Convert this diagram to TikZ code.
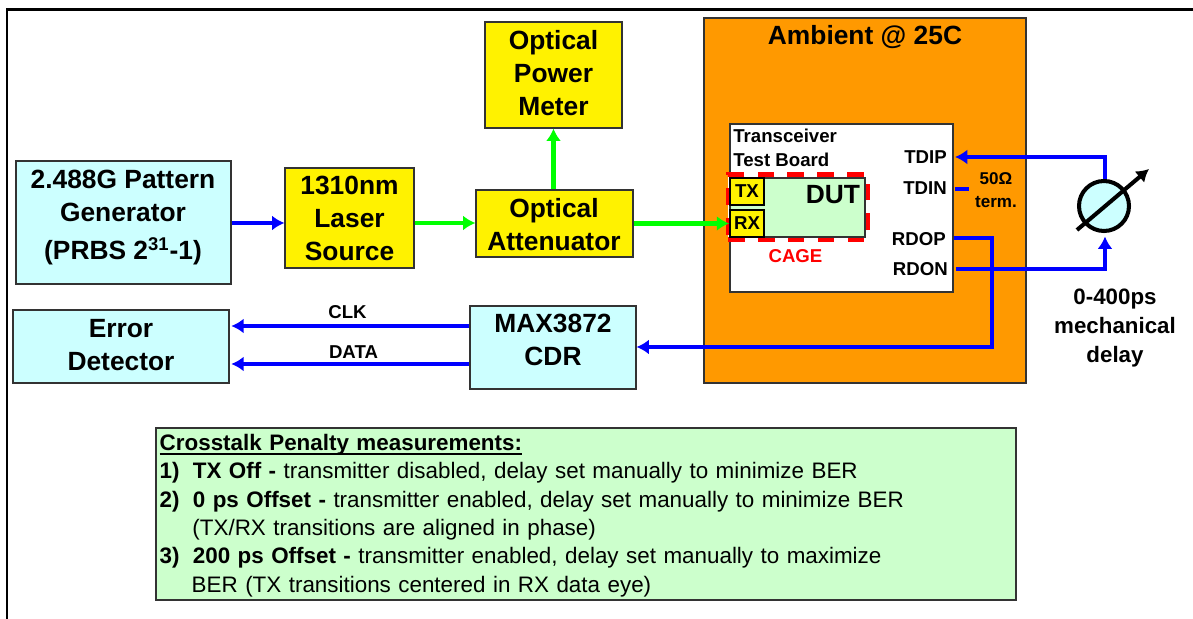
\documentclass[tikz,border=0pt]{standalone}
\usepackage{fontspec}
\setmainfont{Liberation Sans}
\usetikzlibrary{arrows.meta,shapes}
\definecolor{paleblue}{HTML}{CCFFFF}
\definecolor{palegreen}{HTML}{CCFFCC}
\definecolor{ambient}{HTML}{FF9900}
\newcommand{\ulbold}[1]{\setbox0\hbox{\bfseries #1}\rlap{\rule[-2.6pt]{\wd0}{1.1pt}}\box0}
\tikzset{
  blk/.style={draw=black!80, line width=0.65pt},
  big/.style={align=center, font=\fontsize{15}{18.8}\selectfont\bfseries},
  small/.style={font=\fontsize{10.6}{13.7}\selectfont\bfseries, align=center},
  port/.style={small, anchor=east, inner xsep=4.5pt},
  bluewire/.style={draw=blue, line width=2.3pt},
  greenwire/.style={draw=green, line width=2.3pt},
  tip/.style={-{Latex[length=7pt,width=8.5pt]}},
  chip/.style={draw=black, fill=yellow, line width=1pt, minimum width=0.68cm, minimum height=0.54cm, small}
}
\begin{document}
\begin{tikzpicture}[scale=0.2]
    \tikzstyle{every node}+=[inner sep=0pt]
    \useasboundingbox (0,0) rectangle (119.3,-61.9);
    \draw [black, line width=1.3pt] (0.7,-61.9) -- (0.7,-0.95) -- (119.3,-0.95);
    \node (ambient) at (86.5,-20.05) [blk, fill=ambient, minimum width=6.44cm, minimum height=7.3cm] {};
    \node (ambientlabel) at (86.5,-3.7) [big] {Ambient @ 25C};
    \node (board) at (84.15,-20.8) [blk, fill=white, minimum width=4.46cm, minimum height=3.36cm] {};
    \node (boardlabel) at (73.3,-14.8) [small, anchor=west, align=left] {Transceiver\\Test Board};
    \node (cage) at (79.8,-20.7) [draw=red, fill=white, line width=2.8pt, dash pattern=on 9.5pt off 7.5pt, minimum width=2.8cm, minimum height=1.3cm] {};
    \node (dut) at (79.75,-20.75) [blk, fill=palegreen, minimum width=2.7cm, minimum height=1.18cm] {};
    \node (dutlabel) at (83.3,-19.5) [big] {DUT};
    \node (tx) at (74.7,-19.15) [chip] {TX};
    \node (rx) at (74.7,-22.35) [chip] {RX};
    \node (cagelabel) at (79.55,-25.6) [small, text=red] {CAGE};
    \node (tdip) at (95.5,-15.75) [port] {TDIP};
    \node (tdin) at (95.5,-18.8) [port] {TDIN};
    \node (rdop) at (95.4,-23.9) [port] {RDOP};
    \node (rdon) at (95.6,-26.9) [port] {RDON};
    \node (term) at (99.6,-19.05) [small, font=\fontsize{9.7}{13}\selectfont\bfseries] {50Ω\\term.};
    \node (pattern) at (12.35,-22.25) [blk, fill=paleblue, minimum width=4.3cm, minimum height=2.46cm] {};
    \node (patternlabel) at (12.3,-21.75) [big] {2.488G Pattern\\Generator\\[3pt](PRBS 2\textsuperscript{31}-1)};
    \node (laser) at (34.95,-21.8) [blk, fill=yellow, big, minimum width=2.58cm, minimum height=2cm] {1310nm\\Laser\\Source};
    \node (atten) at (55.45,-22.35) [blk, fill=yellow, minimum width=3.14cm, minimum height=1.34cm] {};
    \node (attenlabel) at (55.4,-22.45) [big] {Optical\\Attenuator};
    \node (meter) at (55.35,-7.5) [blk, fill=yellow, minimum width=2.74cm, minimum height=2.12cm] {};
    \node (meterlabel) at (55.35,-7.3) [big] {Optical\\Power\\Meter};
    \node (error) at (12.1,-34.65) [blk, fill=paleblue, minimum width=4.32cm, minimum height=1.46cm] {};
    \node (errorlabel) at (12.1,-34.55) [big] {Error\\Detector};
    \node (cdr) at (55.3,-34.75) [blk, fill=paleblue, minimum width=3.32cm, minimum height=1.66cm] {};
    \node (cdrlabel) at (55.3,-33.95) [big] {MAX3872\\CDR};
    \node (phase) at (110.4,-20.6) [circle, draw=black, fill=paleblue, line width=2.3pt, minimum size=1cm] {};
    \coordinate (swing) at (107.7,-23);
    \coordinate (swung) at (114.9,-16.9);
    \coordinate (rail) at (0,-22.3);
    \coordinate (stub) at (96.9,-18.9);
    \coordinate (rdopturn) at (99.2,-23.8);
    \coordinate (cdrturn) at (99.2,-34.7);
    \coordinate (rdonturn) at (110.5,-26.9);
    \coordinate (tdipturn) at (110.5,-15.7);
    \coordinate (clkrail) at (0,-32.6);
    \coordinate (datarail) at (0,-36.4);
    \node (delay) at (111.5,-32.85) [font=\fontsize{12.7}{16.5}\selectfont\bfseries, align=center] {0-400ps\\mechanical\\delay};
    \node (clk) at (34.75,-31.2) [small] {CLK};
    \node (data) at (35.35,-35.2) [small] {DATA};
    \draw [black, line width=2.3pt, tip] (swing) -- (swung);
    \draw [bluewire, tip] (pattern.east |- rail) -- (laser.west |- rail);
    \draw [greenwire, tip] (laser.east |- rail) -- (atten.west |- rail);
    \draw [greenwire, tip] (meter.south |- atten.north) -- (meter.south);
    \draw [greenwire, tip] (atten.east |- rx) -- (rx.west);
    \draw [bluewire, tip] (phase.north -| tdipturn) -- (tdipturn) -- (tdip.east |- tdipturn);
    \draw [bluewire] (tdin.east |- stub) -- (stub);
    \draw [bluewire, tip] (rdop.east |- rdopturn) -- (rdopturn) -- (cdrturn) -- (cdr.east |- cdrturn);
    \draw [bluewire, tip, shorten >=2pt] (rdon.east) -- (rdonturn) -- (phase.south -| rdonturn);
    \draw [bluewire, tip, shorten >=1pt] (cdr.west |- clkrail) -- (error.east |- clkrail);
    \draw [bluewire, tip, shorten >=1pt] (cdr.west |- datarail) -- (error.east |- datarail);
    \node (notes) at (58.6,-51.4) [blk, fill=palegreen, minimum width=17.2cm, minimum height=3.44cm] {};
    \node (noteslabel) at (58.6,-51.55) [text width=17.05cm, align=left, font=\fontsize{12.75}{16.15}\selectfont] {\ulbold{Crosstalk Penalty measurements:}\\
    \textbf{1)\hspace{7.5pt}TX Off -} transmitter disabled, delay set manually to minimize BER\\
    \textbf{2)\hspace{7.5pt}0 ps Offset -} transmitter enabled, delay set manually to minimize BER\\
    \hspace*{18.6pt}(TX/RX transitions are aligned in phase)\\
    \textbf{3)\hspace{7.5pt}200 ps Offset -} transmitter enabled, delay set manually to maximize\\
    \hspace*{18.2pt}BER (TX transitions centered in RX data eye)};
\end{tikzpicture}
\end{document}
